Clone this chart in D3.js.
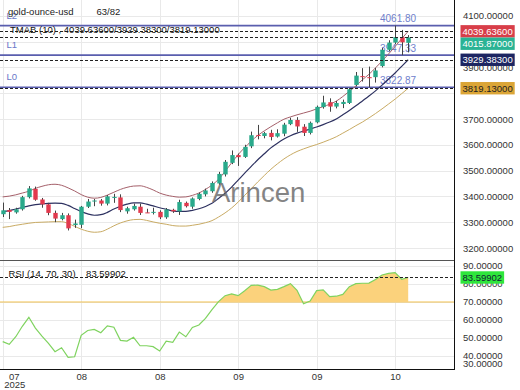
<!DOCTYPE html>
<html>
<head>
<meta charset="utf-8">
<script src="https://cdn.jsdelivr.net/npm/d3@7"></script>
<style>
  html, body { margin: 0; padding: 0; background: #fff; }
  svg { display: block; font-family: "Liberation Sans", Arial, sans-serif; }
</style>
</head>
<body>
<svg id="chart" width="520" height="390"></svg>
<script>
// daily OHLC, gold-ounce-usd
const open  = [3331,3347,3338,3350,3397,3429,3388,3369,3336,3312, 3327,3289,3290,3360,3380,3384,3372,3394,3396,3342,
               3350,3360,3338,3337,3340,3319,3348,3342,3375,3360, 3390,3408,3420,3450,3485,3530,3560,3553,3594,3638,
               3634,3646,3632,3643,3680,3696,3670,3646,3687,3746, 3765,3748,3758,3762,3832,3866,3862,3862,3905,3968,
               3996,4017,3995]
const high  = [3376,3355,3356,3402,3440,3438,3394,3375,3345,3336, 3334,3310,3363,3390,3390,3390,3405,3410,3408,3360,
               3372,3372,3352,3356,3346,3355,3352,3387,3380,3396, 3415,3430,3458,3495,3541,3578,3566,3600,3651,3677,
               3650,3658,3660,3685,3705,3707,3680,3690,3752,3790, 3780,3770,3775,3820,3882,3897,3903,3898,3975,4005,
               4061.80,4045,4025]
const low   = [3320,3312,3333,3345,3392,3383,3356,3327,3300,3307, 3268,3278,3277,3355,3362,3364,3365,3375,3339,3333,
               3345,3328,3336,3330,3312,3313,3336,3328,3357,3352, 3385,3400,3414,3445,3477,3525,3518,3549,3587,3621,
               3625,3617,3628,3633,3676,3650,3634,3640,3683,3740, 3728,3741,3742,3758,3826,3845,3822.87,3841,3900,3962,
               3990,3947.33,3958]
const close = [3346,3340,3350,3397,3431,3387,3369,3336,3314,3327, 3276,3295,3360,3380,3384,3372,3400,3398,3347,3354,
               3363,3336,3337,3340,3319,3349,3342,3378,3362,3392, 3410,3423,3452,3487,3534,3560,3552,3592,3637,3634,
               3645,3630,3645,3678,3696,3671,3646,3685,3747,3764, 3748,3762,3766,3815,3868,3862,3858,3888,3968,3996,
               4017,3997,4015.87]

// TMAB (10) bands
const tmaUpper = [3398,3401,3406,3413,3420,3431,3439,3445,3447,3443, 3433,3421,3407,3397,3393,3396,3405,3416,3427,3435,
                  3440,3441,3435,3425,3413,3405,3400,3397,3398,3404, 3413,3427,3444,3466,3497,3530,3562,3589,3614,3636,
                  3654,3670,3685,3699,3708,3716,3723,3730,3739,3748, 3757,3769,3787,3807,3828,3852,3873,3898,3924,3952,
                  3981,4011,4039.636]
const tmaMid   = [3341,3345,3351,3357,3363,3368,3371,3373,3374,3373, 3365,3353,3341,3332,3327,3329,3338,3351,3362,3370,
                  3375,3375,3370,3363,3356,3350,3344,3342,3342,3346, 3352,3361,3373,3392,3412,3436,3463,3490,3516,3542,
                  3565,3588,3606,3622,3635,3645,3653,3661,3669,3678, 3688,3700,3716,3733,3751,3770,3789,3809,3831,3855,
                  3878,3904,3929.383]
const tmaLower = [3280,3283,3288,3292,3296,3299,3300,3301,3302,3302, 3295,3284,3273,3265,3261,3263,3273,3286,3297,3305,
                  3310,3311,3307,3301,3296,3292,3287,3285,3285,3288, 3292,3298,3306,3320,3336,3355,3378,3404,3430,3456,
                  3481,3505,3526,3545,3561,3574,3584,3593,3601,3610, 3620,3631,3645,3659,3674,3688,3704,3721,3739,3758,
                  3777,3798,3819.13]

// RSI (14, 70, 30)
const rsi = [48,46.5,50.7,56.5,61.5,55.5,51,47,42.4,44.6, 39.3,39.6,51.5,54.2,54.8,52.9,56.7,56,48.7,48.3,
             50.4,45.7,45.7,45.2,42.8,48.3,47.6,53.3,50.7,55.9, 57.2,60.9,65.8,70.2,73.5,74.5,73.5,76.2,79.2,79.4,
             78.5,76.6,77,78.5,80.2,76.5,69,70.5,76.3,76.7, 73,73.2,74.2,78.5,80.2,80.4,80.5,82.5,85,85.9,
             86.3,82.6,83.59902]

const xTickIdx = [0, 12, 24, 36, 48, 60]
const xTickLabels = ['07', '08', '08', '09', '09', '10']
const yearLabel = '2025'
const priceTicks = [3200, 3300, 3400, 3500, 3600, 3700, 3800, 3900, 4000, 4100]
const rsiTicks = [30, 40, 50, 60, 70, 80, 90]
const levels = [
  { name: 'L2', value: 4061.80 },
  { name: 'L1', value: 3947.33 },
  { name: 'L0', value: 3822.87 }
]

const plotR = 454
const mainB = 260
const rsiB = 369
const last = close.length - 1
const fmt5 = d3.format('.5f')
const FS = 9.5

const svg = d3.select('#chart')

const x = d3.scaleLinear().domain([0, last]).range([2.7, 408.2])
const y = d3.scaleLinear().domain([3153.5, 4161]).range([mainB, 0])
const yR = d3.scaleLinear().domain([32.8, 93.3]).range([rsiB, mainB])
const px = v => Math.round(v) + 0.5

// grid
const grid = svg.append('g').attr('stroke', '#e9e9e9').attr('stroke-width', 1)
grid.selectAll('line.v').data(xTickIdx).join('line').attr('class', 'v')
  .attr('x1', d => px(x(d))).attr('x2', d => px(x(d)))
  .attr('y1', 0).attr('y2', rsiB)
grid.selectAll('line.h').data(priceTicks).join('line').attr('class', 'h')
  .attr('x1', 0).attr('x2', plotR)
  .attr('y1', d => px(y(d))).attr('y2', d => px(y(d)))
grid.selectAll('line.r').data(rsiTicks.filter(t => yR(t) > mainB && yR(t) < rsiB)).join('line').attr('class', 'r')
  .attr('x1', 0).attr('x2', plotR)
  .attr('y1', d => px(yR(d))).attr('y2', d => px(yR(d)))

// support / resistance levels
const lv = svg.append('g')
lv.selectAll('line').data(levels).join('line')
  .attr('x1', 0).attr('x2', plotR)
  .attr('y1', d => y(d.value)).attr('y2', d => y(d.value))
  .attr('stroke', '#5a5eae').attr('stroke-width', 1.6)
lv.selectAll('text.val').data(levels).join('text').attr('class', 'val')
  .attr('x', 380).attr('y', d => y(d.value) - 3.5)
  .attr('font-size', FS + 0.5).attr('fill', '#7080cc')
  .text(d => d.value.toFixed(2))
lv.selectAll('text.nm').data(levels).join('text').attr('class', 'nm')
  .attr('x', 6.5).attr('y', d => y(d.value) - 7)
  .attr('font-size', FS).attr('fill', '#6a78c8')
  .text(d => d.name)

// bands
const band = arr => d3.line().x((d, i) => x(i)).y(d => y(d)).curve(d3.curveMonotoneX)(arr)
svg.append('path').attr('d', band(tmaLower)).attr('fill', 'none').attr('stroke', '#c9ab64').attr('stroke-width', 1)
svg.append('path').attr('d', band(tmaUpper)).attr('fill', 'none').attr('stroke', '#a5606a').attr('stroke-width', 1)
svg.append('path').attr('d', band(tmaMid)).attr('fill', 'none').attr('stroke', '#2d3160').attr('stroke-width', 1.2)

// candles
const cw = 4.4
const candles = svg.append('g').selectAll('g').data(d3.range(close.length)).join('g')
candles.append('line')
  .attr('x1', i => px(x(i))).attr('x2', i => px(x(i)))
  .attr('y1', i => y(high[i])).attr('y2', i => y(low[i]))
  .attr('stroke', '#444').attr('stroke-width', 1)
candles.append('rect')
  .attr('x', i => px(x(i)) - cw / 2)
  .attr('width', cw)
  .attr('y', i => y(Math.max(open[i], close[i])))
  .attr('height', i => Math.max(1, Math.abs(y(open[i]) - y(close[i]))))
  .attr('fill', i => close[i] >= open[i] ? '#29a98b' : '#e2394d')

// current value markers (dashed lines + right boxes)
const marks = [
  { value: tmaUpper[last], fill: '#d83e49', color: '#fff' },
  { value: close[last], fill: '#2ab394', color: '#fff' },
  { value: tmaMid[last], fill: '#1d2562', color: '#fff' },
  { value: tmaLower[last], fill: '#dba536', color: '#222' }
]
svg.append('g').selectAll('line').data(marks).join('line')
  .attr('x1', 0).attr('x2', plotR)
  .attr('y1', d => px(y(d.value))).attr('y2', d => px(y(d.value)))
  .attr('stroke', '#222').attr('stroke-dasharray', '3,2')

// RSI panel
svg.append('line').attr('x1', 0).attr('x2', plotR)
  .attr('y1', yR(70)).attr('y2', yR(70))
  .attr('stroke', '#f2c250').attr('stroke-width', 1.2)
svg.append('clipPath').attr('id', 'above70').append('rect')
  .attr('x', 0).attr('y', mainB).attr('width', plotR).attr('height', yR(70) - mainB)
svg.append('path')
  .attr('d', d3.area().x((d, i) => x(i)).y0(yR(70)).y1(d => yR(d))(rsi))
  .attr('fill', '#fbd27c').attr('clip-path', 'url(#above70)')
svg.append('path')
  .attr('d', d3.line().x((d, i) => x(i)).y(d => yR(d))(rsi))
  .attr('fill', 'none').attr('stroke', '#7fd35f').attr('stroke-width', 1.2)
svg.append('line').attr('x1', 0).attr('x2', plotR)
  .attr('y1', px(yR(rsi[last]))).attr('y2', px(yR(rsi[last])))
  .attr('stroke', '#222').attr('stroke-dasharray', '3,2')

// watermark
svg.append('text').attr('x', 212).attr('y', 202)
  .attr('font-size', 27.5).attr('fill', '#666').attr('opacity', 0.8)
  .text('Arincen')

// legends
svg.append('text').attr('x', 8).attr('y', 15).attr('font-size', FS).attr('fill', '#222').text('gold-ounce-usd')
svg.append('text').attr('x', 96.5).attr('y', 15).attr('font-size', FS).attr('fill', '#222').text('63/82')
svg.append('text').attr('x', 10).attr('y', 32.5).attr('font-size', FS).attr('fill', '#111')
  .text(`TMAB (10) , ${fmt5(tmaUpper[last])}/${fmt5(tmaMid[last])}/${fmt5(tmaLower[last])}`)
svg.append('text').attr('x', 8.5).attr('y', 276.5).attr('font-size', FS).attr('fill', '#111')
  .attr('xml:space', 'preserve')
  .text(`RSI (14, 70, 30)    ${fmt5(rsi[last])}`)

// frame
svg.append('line').attr('x1', 0).attr('x2', plotR).attr('y1', mainB + 0.5).attr('y2', mainB + 0.5).attr('stroke', '#555')
svg.append('line').attr('x1', 0).attr('x2', plotR).attr('y1', rsiB + 0.5).attr('y2', rsiB + 0.5).attr('stroke', '#111')
svg.append('line').attr('x1', plotR + 0.5).attr('x2', plotR + 0.5).attr('y1', 0).attr('y2', rsiB + 1).attr('stroke', '#111')

// value boxes positions (resolve overlaps top to bottom)
const boxH = 12.4
const placed = marks.map(d => ({ ...d, cy: y(d.value) })).sort((a, b) => a.cy - b.cy)
placed.forEach((d, i) => { if (i > 0 && d.cy < placed[i - 1].cy + boxH) d.cy = placed[i - 1].cy + boxH })
const rsiBoxY = yR(rsi[last])

// price axis (labels fully covered by a value box are skipped)
const styleAxis = g => {
  g.select('.domain').remove()
  g.attr('font-family', '"Liberation Sans", Arial, sans-serif').attr('font-size', FS)
  g.selectAll('text').attr('fill', '#333')
}
const visiblePrice = priceTicks.filter(t => placed.every(b => Math.abs(b.cy - y(t)) >= 6))
svg.append('g').attr('transform', `translate(${plotR},0)`)
  .call(d3.axisRight(y).tickValues(visiblePrice).tickFormat(fmt5).tickSize(0).tickPadding(9))
  .call(styleAxis)
svg.append('g').attr('transform', `translate(${plotR},0)`)
  .call(d3.axisRight(yR).tickValues(rsiTicks).tickFormat(fmt5).tickSize(0).tickPadding(9))
  .call(styleAxis)
  .call(g => g.selectAll('.tick').attr('transform', d => `translate(0,${Math.min(yR(d), rsiB - 5)})`))

// time axis
svg.append('g').attr('transform', `translate(0,${rsiB})`)
  .call(d3.axisBottom(x).tickValues(xTickIdx).tickFormat((d, i) => xTickLabels[i]).tickSize(0).tickPadding(4))
  .call(styleAxis)
  .call(g => g.select('.tick text').attr('x', 11))
svg.append('text').attr('x', x(0) + 12).attr('y', 388).attr('text-anchor', 'middle')
  .attr('font-size', FS).attr('fill', '#333').text(yearLabel)

// value boxes on the right axis
const drawBox = (cy, label, fill, color) => {
  const g = svg.append('g')
  const r = g.append('rect').attr('fill', fill)
  const t = g.append('text').attr('x', 462.5).attr('y', cy + 3.4)
    .attr('font-size', FS).attr('fill', color).text(label)
  const w = t.node().getComputedTextLength()
  r.attr('x', 460.5).attr('y', cy - boxH / 2).attr('width', w + 4).attr('height', boxH)
}
placed.forEach(d => drawBox(d.cy, fmt5(d.value), d.fill, d.color))
drawBox(rsiBoxY, fmt5(rsi[last]), '#2fe63c', '#123')
</script>
</body>
</html>
